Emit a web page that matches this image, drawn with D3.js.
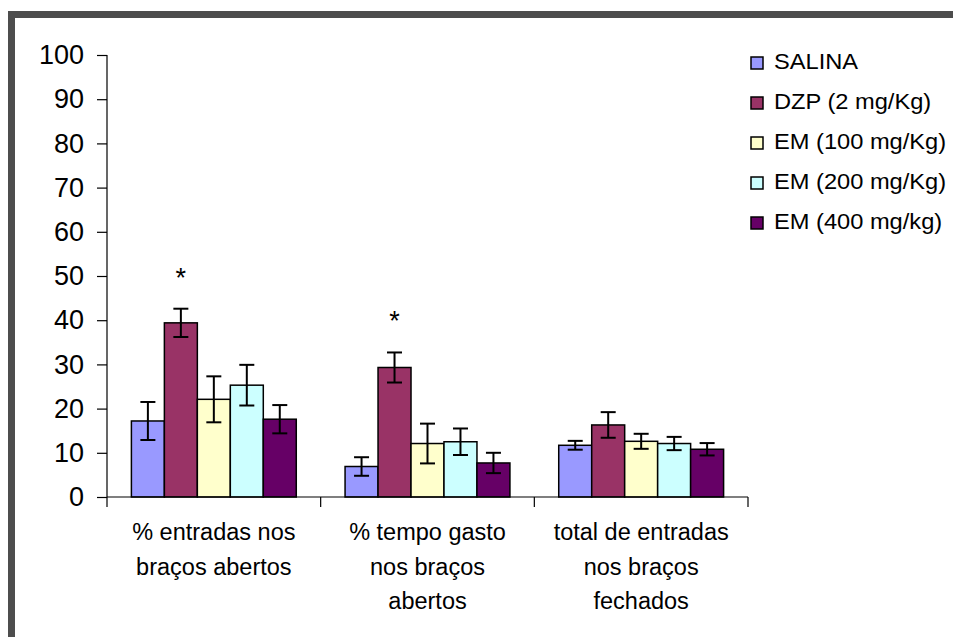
<!DOCTYPE html>
<html>
<head>
<meta charset="utf-8">
<script src="https://cdn.jsdelivr.net/npm/d3@7"></script>
<style>
  html, body { margin: 0; padding: 0; background: #ffffff; }
  svg { display: block; }
  text { font-family: "Liberation Sans", Arial, sans-serif; fill: #000; }
</style>
</head>
<body>
<svg id="chart" width="953" height="637"></svg>
<script>
// ---- data ----
const categories = [
  ["% entradas nos", "braços abertos"],
  ["% tempo gasto", "nos braços", "abertos"],
  ["total de entradas", "nos braços", "fechados"]
];
const seriesNames = ["SALINA", "DZP (2 mg/Kg)", "EM (100 mg/Kg)", "EM (200 mg/Kg)", "EM (400 mg/kg)"];
const seriesColors = ["#9999FF", "#993366", "#FFFFCC", "#CCFFFF", "#660066"];
const salinaMean = [17.2, 6.9, 11.7];
const salinaSE   = [4.3, 2.1, 1.0];
const dzpMean    = [39.4, 29.3, 16.3];
const dzpSE      = [3.2, 3.4, 2.9];
const em100Mean  = [22.1, 12.1, 12.6];
const em100SE    = [5.2, 4.5, 1.7];
const em200Mean  = [25.3, 12.5, 12.1];
const em200SE    = [4.6, 3.0, 1.5];
const em400Mean  = [17.6, 7.7, 10.8];
const em400SE    = [3.2, 2.3, 1.4];
const yTicks = [0, 10, 20, 30, 40, 50, 60, 70, 80, 90, 100];
// significance markers: [category index, series index]
const significant = [[0, 1], [1, 1]];

const means = [salinaMean, dzpMean, em100Mean, em200Mean, em400Mean];
const ses = [salinaSE, dzpSE, em100SE, em200SE, em400SE];

// ---- layout ----
const svg = d3.select("#chart");
const catKeys = categories.map((c, i) => i);

const x0 = d3.scaleBand().domain(catKeys).range([107, 748]).padding(0);
const x1 = d3.scaleBand().domain(seriesNames.map((s, i) => i))
  .range([0, x0.bandwidth()]).paddingInner(0).paddingOuter(0.74);
const y = d3.scaleLinear().domain([0, 100]).range([497, 55]);

// frame (dark border on top and left)
svg.append("rect").attr("x", 8).attr("y", 11).attr("width", 945).attr("height", 7).attr("fill", "#4d4d4d");
svg.append("rect").attr("x", 8).attr("y", 11).attr("width", 7).attr("height", 626).attr("fill", "#4d4d4d");

// bars
const flat = [];
means.forEach((arr, s) => arr.forEach((v, c) => flat.push({ s, c, v, e: ses[s][c] })));

svg.append("g").selectAll("rect").data(flat).join("rect")
  .attr("x", d => x0(d.c) + x1(d.s))
  .attr("y", d => y(d.v))
  .attr("width", x1.bandwidth())
  .attr("height", d => y(0) - y(d.v))
  .attr("fill", d => seriesColors[d.s])
  .attr("stroke", "#000")
  .attr("stroke-width", 1.5);

// error bars
const eg = svg.append("g").attr("stroke", "#000").attr("stroke-width", 2);
flat.forEach(d => {
  const cx = x0(d.c) + x1(d.s) + x1.bandwidth() / 2;
  const top = y(d.v + d.e), bot = y(d.v - d.e);
  eg.append("line").attr("x1", cx).attr("x2", cx).attr("y1", top).attr("y2", bot);
  eg.append("line").attr("x1", cx - 7.5).attr("x2", cx + 7.5).attr("y1", top).attr("y2", top);
  eg.append("line").attr("x1", cx - 7.5).attr("x2", cx + 7.5).attr("y1", bot).attr("y2", bot);
});

// significance asterisks
significant.forEach(([c, s]) => {
  const cx = x0(c) + x1(s) + x1.bandwidth() / 2;
  svg.append("text")
    .attr("x", cx).attr("y", y(means[s][c] + ses[s][c]) - 22)
    .attr("text-anchor", "middle").attr("font-size", 27).text("*");
});

// y axis
const yAxis = d3.axisLeft(y).tickValues(yTicks).tickSize(10).tickPadding(13);
const gy = svg.append("g").attr("transform", "translate(107,0)").call(yAxis);
gy.selectAll("text").attr("font-size", 27).attr("font-family", "'Liberation Sans', Arial, sans-serif").attr("fill", "#000");
gy.selectAll("line").attr("stroke", "#000").attr("stroke-width", 1.2);
gy.select(".domain").attr("stroke", "#000").attr("stroke-width", 1.2).attr("d", "M0,55V497");

// x axis
svg.append("line").attr("x1", 107).attr("x2", 748).attr("y1", 497).attr("y2", 497)
  .attr("stroke", "#000").attr("stroke-width", 1.2);
const boundaries = catKeys.map(c => x0(c)).concat([x0(catKeys[catKeys.length - 1]) + x0.bandwidth()]);
svg.append("g").selectAll("line").data(boundaries).join("line")
  .attr("x1", d => d).attr("x2", d => d).attr("y1", 497).attr("y2", 507)
  .attr("stroke", "#000").attr("stroke-width", 1.2);

// category labels
categories.forEach((lines, c) => {
  const cx = x0(c) + x0.bandwidth() / 2;
  lines.forEach((ln, i) => {
    svg.append("g").attr("transform", `translate(${cx},${540 + i * 34.5}) scale(1.0,1)`)
      .append("text").attr("text-anchor", "middle").attr("font-size", 23.5).text(ln);
  });
});

// legend
const lg = svg.append("g");
seriesNames.forEach((name, i) => {
  const by = 69 + i * 40;
  lg.append("rect").attr("x", 751).attr("y", by - 12).attr("width", 12).attr("height", 12)
    .attr("fill", seriesColors[i]).attr("stroke", "#000").attr("stroke-width", 1.5);
  lg.append("g").attr("transform", `translate(774,${by}) scale(1.1,1)`)
    .append("text").attr("font-size", 21.5).text(name);
});
</script>
</body>
</html>
